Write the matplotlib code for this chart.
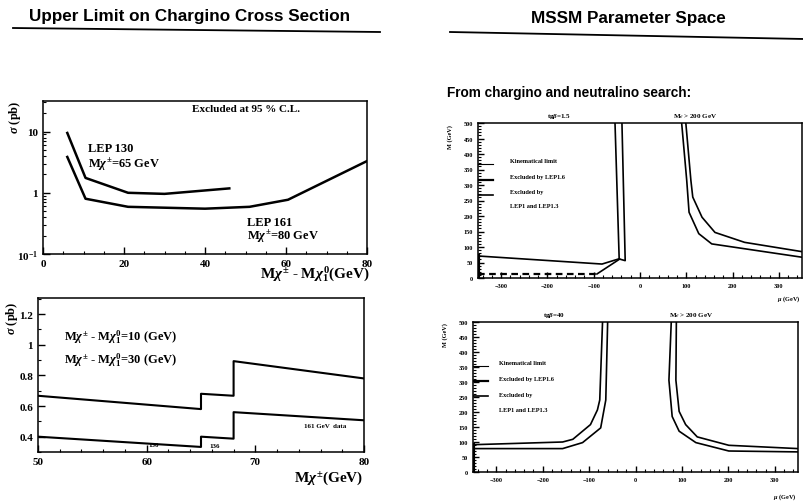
import matplotlib
matplotlib.use("Agg")
import matplotlib.pyplot as plt
from matplotlib.lines import Line2D
from matplotlib.ticker import MultipleLocator, AutoMinorLocator, FixedLocator, LogLocator, NullFormatter

plt.rcParams["font.family"] = ["Liberation Serif", "DejaVu Serif"]
plt.rcParams["font.weight"] = "bold"
plt.rcParams["mathtext.fontset"] = "custom"
plt.rcParams["mathtext.rm"] = "Liberation Serif:bold"
plt.rcParams["mathtext.it"] = "Liberation Serif:italic:bold"
plt.rcParams["mathtext.bf"] = "Liberation Serif:bold"
plt.rcParams["axes.linewidth"] = 1.1

# --- upper left: cross-section limit vs mass difference (log y) ---
dm_lep130 = [6, 10.5, 21, 30, 46]
sig_lep130 = [9.5, 1.75, 1.0, 0.96, 1.18]
dm_lep161 = [6, 10.5, 21, 40, 51, 60.5, 80]
sig_lep161 = [3.85, 0.80, 0.59, 0.55, 0.59, 0.77, 3.3]

# --- lower left: cross-section limit vs chargino mass (steps) ---
m_chi = [50, 65, 65, 68, 68, 80]
sig_dm10 = [0.667, 0.58, 0.68, 0.667, 0.893, 0.78]
sig_dm30 = [0.40, 0.333, 0.40, 0.387, 0.56, 0.507]

# --- upper right: tan(beta)=1.5 excluded contours in (mu, M) ---
tb15_band_a_mu = [-54, -45]
tb15_band_a_M = [500, 62]
tb15_band_b_mu = [-39, -32, -44]
tb15_band_b_M = [500, 56, 61]
tb15_low_mu = [-350, -82, -45]
tb15_low_M = [71, 45, 62]
tb15_dash_mu = [-350, -93]
tb15_dash_M = [13, 13]
tb15_diag_mu = [-93, -44]
tb15_diag_M = [13, 61]
tb15_right_in_mu = [90, 101, 106, 127, 155, 350]
tb15_right_in_M = [500, 314, 212, 143, 110, 67]
tb15_right_out_mu = [99, 110, 114, 134, 162, 226, 350]
tb15_right_out_M = [500, 314, 261, 196, 147, 115, 85]

# --- lower right: tan(beta)=40 ---
tb40_left_out_mu = [-71, -77, -82, -97, -135, -157, -350]
tb40_left_out_M = [500, 240, 207, 158, 109, 100, 91]
tb40_left_in_mu = [-60, -64, -75, -114, -157, -350]
tb40_left_in_M = [500, 240, 147, 98, 78, 78]
tb40_right_out_mu = [77, 72, 79, 94, 130, 201, 350]
tb40_right_out_M = [500, 306, 185, 136, 98, 70, 67]
tb40_right_in_mu = [88, 87, 94, 108, 133, 201, 350]
tb40_right_in_M = [500, 306, 202, 158, 117, 89, 78]

legend_labels = ["Kinematical limit", "Excluded by LEP1.6", "Excluded by", "LEP1 and LEP1.3"]

W, H = 804, 502
fig = plt.figure(figsize=(W / 100, H / 100), dpi=100)


def px_axes(left, top, right, bottom):
    return fig.add_axes([left / W, 1 - bottom / H, (right - left) / W, (bottom - top) / H])


def fig_line(x, y, lw=1.3):
    fig.add_artist(Line2D([v / W for v in x], [1 - v / H for v in y], color="black", lw=lw))


def style(ax, size):
    ax.tick_params(which="both", direction="in", top=False, right=False, labelsize=size)
    ax.tick_params(which="major", length=5, width=1)
    ax.tick_params(which="minor", length=2.5, width=0.8)
    for lab in ax.get_xticklabels() + ax.get_yticklabels():
        lab.set_fontweight("bold")


# page headings
sans = ["Liberation Sans", "DejaVu Sans"]
fig.text(190 / W, 1 - 16 / H, "Upper Limit on Chargino Cross Section", family=sans,
         fontsize=12.3, weight="bold", ha="center", va="center")
fig_line([13, 380], [29, 33])
fig.text(628 / W, 1 - 19 / H, "MSSM Parameter Space", family=sans,
         fontsize=12.3, weight="bold", ha="center", va="center")
fig_line([450, 804], [33, 40])
fig.text(447 / W, 1 - 93 / H, "From chargino and neutralino search:", family=sans,
         fontsize=9.8, weight="bold", ha="left", va="center")

# 1. sigma limit vs delta M
ax = px_axes(43, 102, 367, 255)
ax.plot(dm_lep130, sig_lep130, color="black", lw=1.8)
ax.plot(dm_lep161, sig_lep161, color="black", lw=1.8)
ax.set_yscale("log")
ax.set_xlim(0, 80)
ax.set_ylim(0.1, 31.6)
ax.xaxis.set_major_locator(MultipleLocator(20))
ax.xaxis.set_minor_locator(AutoMinorLocator(4))
ax.yaxis.set_major_locator(FixedLocator([0.1, 1, 10]))
ax.yaxis.set_minor_locator(LogLocator(subs=range(2, 10)))
ax.yaxis.set_minor_formatter(NullFormatter())
ax.set_yticklabels([r"10$^{-1}$", "1", "10"])
style(ax, 8)
ax.text(0.46, 0.95, "Excluded at 95 % C.L.", transform=ax.transAxes, fontsize=8,
        ha="left", va="center")
ax.text(0.14, 0.69, "LEP 130", transform=ax.transAxes, fontsize=9, va="center")
ax.text(0.14, 0.59, r"M$\chi^{\pm}$=65 GeV", transform=ax.transAxes, fontsize=9, va="center")
ax.text(0.63, 0.21, "LEP 161", transform=ax.transAxes, fontsize=9, va="center")
ax.text(0.63, 0.12, r"M$\chi^{\pm}$=80 GeV", transform=ax.transAxes, fontsize=9, va="center")
fig.text(15 / W, 1 - 117 / H, r"$\sigma$ (pb)", rotation=90, fontsize=9, ha="center", va="center")
fig.text(370 / W, 1 - 274 / H, r"M$\chi^{\pm}$ - M$\chi^{0}_{1}$(GeV)", fontsize=11,
         ha="right", va="center")

# 2. sigma limit vs chargino mass
ax = px_axes(38, 299, 364, 453)
ax.plot(m_chi, sig_dm10, color="black", lw=1.5)
ax.plot(m_chi, sig_dm30, color="black", lw=1.5)
ax.set_xlim(50, 80)
ax.set_ylim(0.3, 1.305)
ax.xaxis.set_major_locator(MultipleLocator(10))
ax.xaxis.set_minor_locator(AutoMinorLocator(5))
ax.yaxis.set_major_locator(FixedLocator([0.4, 0.6, 0.8, 1.0, 1.2]))
ax.yaxis.set_minor_locator(MultipleLocator(0.1))
ax.set_yticklabels(["0.4", "0.6", "0.8", "1", "1.2"])
style(ax, 8)
ax.text(0.08, 0.75, r"M$\chi^{\pm}$ - M$\chi^{0}_{1}$=10 (GeV)", transform=ax.transAxes,
        fontsize=9, va="center")
ax.text(0.08, 0.60, r"M$\chi^{\pm}$ - M$\chi^{0}_{1}$=30 (GeV)", transform=ax.transAxes,
        fontsize=9, va="center")
ax.text(60.2, 0.35, "130", fontsize=5, va="center")
ax.text(65.8, 0.345, "136", fontsize=5, va="center")
ax.text(74.5, 0.47, "161 GeV  data", fontsize=5, va="center")
fig.text(12 / W, 1 - 318 / H, r"$\sigma$ (pb)", rotation=90, fontsize=9, ha="center", va="center")
fig.text(363 / W, 1 - 478 / H, r"M$\chi^{\pm}$(GeV)", fontsize=11, ha="right", va="center")


def mssm_panel(rect, title, ylab_y, xlab_y):
    ax = px_axes(*rect)
    ax.set_xlim(-350, 350)
    ax.set_ylim(0, 500)
    ax.xaxis.set_major_locator(MultipleLocator(100))
    ax.xaxis.set_minor_locator(AutoMinorLocator(5))
    ax.yaxis.set_major_locator(MultipleLocator(50))
    ax.yaxis.set_minor_locator(AutoMinorLocator(5))
    style(ax, 4.5)
    ax.tick_params(which="major", length=4)
    ax.tick_params(which="minor", length=2)
    ax.text(-175, 510, title, fontsize=5, ha="center", va="bottom")
    ax.text(120, 510, r"M$_{\tilde{\nu}}$ > 200 GeV", fontsize=5, ha="center", va="bottom")
    fig.text((rect[0] - 28) / W, 1 - ylab_y / H, "M (GeV)", rotation=90, fontsize=4.5,
             ha="center", va="center")
    fig.text((rect[2] - 2) / W, 1 - xlab_y / H, r"$\mu$ (GeV)", fontsize=4.5,
             ha="right", va="center")
    return ax


# 3. tan(beta) = 1.5
ax = mssm_panel((478, 124, 802, 279), r"tg$\beta$=1.5", 137, 299)
for mu, M in [(tb15_band_a_mu, tb15_band_a_M), (tb15_band_b_mu, tb15_band_b_M),
              (tb15_low_mu, tb15_low_M), (tb15_diag_mu, tb15_diag_M),
              (tb15_right_in_mu, tb15_right_in_M), (tb15_right_out_mu, tb15_right_out_M)]:
    ax.plot(mu, M, color="black", lw=1.2)
ax.plot(tb15_dash_mu, tb15_dash_M, color="black", lw=1.6, ls=(0, (3, 2)))
ax.plot([-350, -350], [0, tb15_low_M[0]], color="black", lw=3)
for yy, txt in zip([0.755, 0.655, 0.555, 0.465], legend_labels):
    ax.text(0.10, yy, txt, transform=ax.transAxes, fontsize=4.5, va="center")
for yy, lw in zip([0.735, 0.635, 0.535], [0.8, 1.6, 1.2]):
    ax.plot([0.0, 0.045], [yy, yy], transform=ax.transAxes, color="black", lw=lw)

# 4. tan(beta) = 40
ax = mssm_panel((473, 323, 798, 473), r"tg$\beta$=40", 335, 497)
for mu, M in [(tb40_left_out_mu, tb40_left_out_M), (tb40_left_in_mu, tb40_left_in_M),
              (tb40_right_out_mu, tb40_right_out_M), (tb40_right_in_mu, tb40_right_in_M)]:
    ax.plot(mu, M, color="black", lw=1.2)
ax.plot([-350, -350], [0, tb40_left_out_M[-1]], color="black", lw=3)
for yy, txt in zip([0.73, 0.625, 0.52, 0.415], legend_labels):
    ax.text(0.08, yy, txt, transform=ax.transAxes, fontsize=4.5, va="center")
for yy, lw in zip([0.71, 0.61, 0.505], [0.8, 1.6, 1.2]):
    ax.plot([0.0, 0.045], [yy, yy], transform=ax.transAxes, color="black", lw=lw)

fig.savefig("out.png", dpi=100)
